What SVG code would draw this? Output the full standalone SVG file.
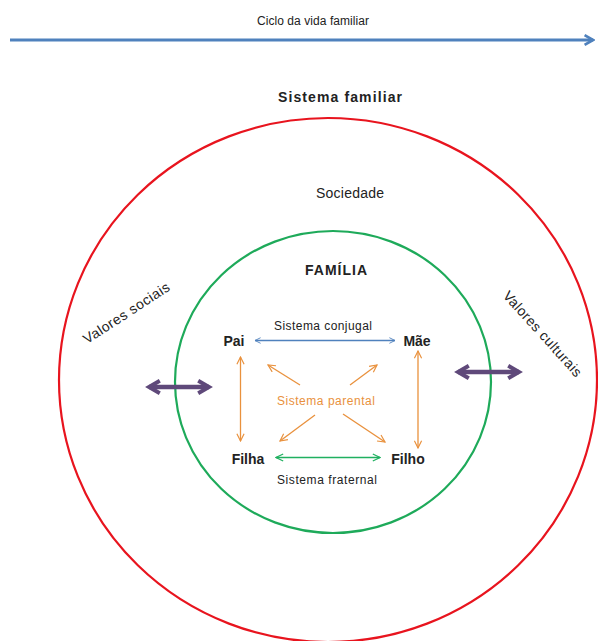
<svg xmlns="http://www.w3.org/2000/svg" width="598" height="641" viewBox="0 0 598 641">
<defs>
<style>
text{font-family:"Liberation Sans","DejaVu Sans",sans-serif;fill:#222;}
.b{font-weight:bold;font-size:14px;}
.s{font-size:12px;}
.v{font-size:14px;}
.n{font-size:12px;}
.or{stroke:#E9913D;stroke-width:1.3;fill:none;}
</style>
<marker id="ab" viewBox="0 0 10 10" refX="9" refY="5" markerWidth="7" markerHeight="7" orient="auto-start-reverse" markerUnits="userSpaceOnUse"><path d="M1,1 L9,5 L1,9" fill="none" stroke="#4F81BD" stroke-width="1.3"/></marker>
<marker id="ao" viewBox="0 0 10 10" refX="9" refY="5" markerWidth="9" markerHeight="9" orient="auto-start-reverse" markerUnits="userSpaceOnUse"><path d="M1,1 L9,5 L1,9" fill="none" stroke="#E9913D" stroke-width="1.3"/></marker>
<marker id="ag" viewBox="0 0 10 10" refX="9" refY="5" markerWidth="9" markerHeight="9" orient="auto-start-reverse" markerUnits="userSpaceOnUse"><path d="M1,1 L9,5 L1,9" fill="none" stroke="#20B060" stroke-width="1.3"/></marker>
<marker id="ap" viewBox="0 0 10 10" refX="8" refY="5" markerWidth="18" markerHeight="18" orient="auto-start-reverse" markerUnits="userSpaceOnUse"><path d="M2,1.5 L8,5 L2,8.5" fill="none" stroke="#5F497A" stroke-width="2.2" stroke-linejoin="miter"/></marker>
<marker id="at" viewBox="0 0 10 10" refX="8" refY="5" markerWidth="12" markerHeight="12" orient="auto" markerUnits="userSpaceOnUse"><path d="M1,1 L8,5 L1,9" fill="none" stroke="#4F81BD" stroke-width="2.2"/></marker>
</defs>
<rect width="598" height="641" fill="#fff"/>
<g id="timeline">
<line x1="10" y1="40" x2="593" y2="40" stroke="#4F81BD" stroke-width="3" marker-end="url(#at)"/>
<text x="313" y="25" class="s" text-anchor="middle" textLength="112">Ciclo da vida familiar</text>
</g>
<g id="sociedade">
<ellipse cx="328" cy="380" rx="269" ry="262" fill="none" stroke="#E8141E" stroke-width="2.2"/>
<text x="340" y="102" class="b" text-anchor="middle" textLength="124">Sistema familiar</text>
<text x="350" y="198" class="v" text-anchor="middle" textLength="68">Sociedade</text>
<text class="v" text-anchor="middle" transform="translate(129,317) rotate(-33)" textLength="100">Valores sociais</text>
<text class="v" text-anchor="middle" transform="translate(539,337) rotate(48)" textLength="110">Valores culturais</text>
</g>
<g id="familia">
<ellipse cx="333" cy="382" rx="158" ry="151" fill="none" stroke="#1EAA5A" stroke-width="2.2"/>
<text x="336" y="275" class="b" text-anchor="middle" textLength="62">FAMÍLIA</text>
</g>
<g id="pai"><text x="234" y="346" class="b" text-anchor="middle">Pai</text></g>
<g id="mae"><text x="417" y="346" class="b" text-anchor="middle">Mãe</text></g>
<g id="filha"><text x="248" y="464" class="b" text-anchor="middle">Filha</text></g>
<g id="filho"><text x="408" y="464" class="b" text-anchor="middle">Filho</text></g>
<g id="connectors">
<line x1="255" y1="340.5" x2="395" y2="340.5" stroke="#4F81BD" stroke-width="1.3" marker-start="url(#ab)" marker-end="url(#ab)"/>
<text x="323" y="330" class="n" text-anchor="middle" textLength="98">Sistema conjugal</text>
<line class="or" x1="240.5" y1="357" x2="240.5" y2="441" marker-start="url(#ao)" marker-end="url(#ao)"/>
<line class="or" x1="418" y1="351" x2="418" y2="448" marker-start="url(#ao)" marker-end="url(#ao)"/>
<line class="or" x1="300" y1="385" x2="268" y2="365" marker-end="url(#ao)"/>
<line class="or" x1="350" y1="385" x2="377" y2="365" marker-end="url(#ao)"/>
<line class="or" x1="315" y1="415" x2="280" y2="441" marker-end="url(#ao)"/>
<line class="or" x1="343" y1="414" x2="385" y2="442" marker-end="url(#ao)"/>
<text x="326" y="405" class="n" text-anchor="middle" textLength="98" style="fill:#E9913D">Sistema parental</text>
<line x1="276" y1="457.5" x2="380" y2="457.5" stroke="#20B060" stroke-width="1.3" marker-start="url(#ag)" marker-end="url(#ag)"/>
<text x="327" y="484" class="n" text-anchor="middle" textLength="100">Sistema fraternal</text>
<line x1="149" y1="387" x2="209" y2="387" stroke="#5F497A" stroke-width="4.5" marker-start="url(#ap)" marker-end="url(#ap)"/>
<line x1="458" y1="372" x2="519" y2="372" stroke="#5F497A" stroke-width="4.5" marker-start="url(#ap)" marker-end="url(#ap)"/>
</g>
</svg>
